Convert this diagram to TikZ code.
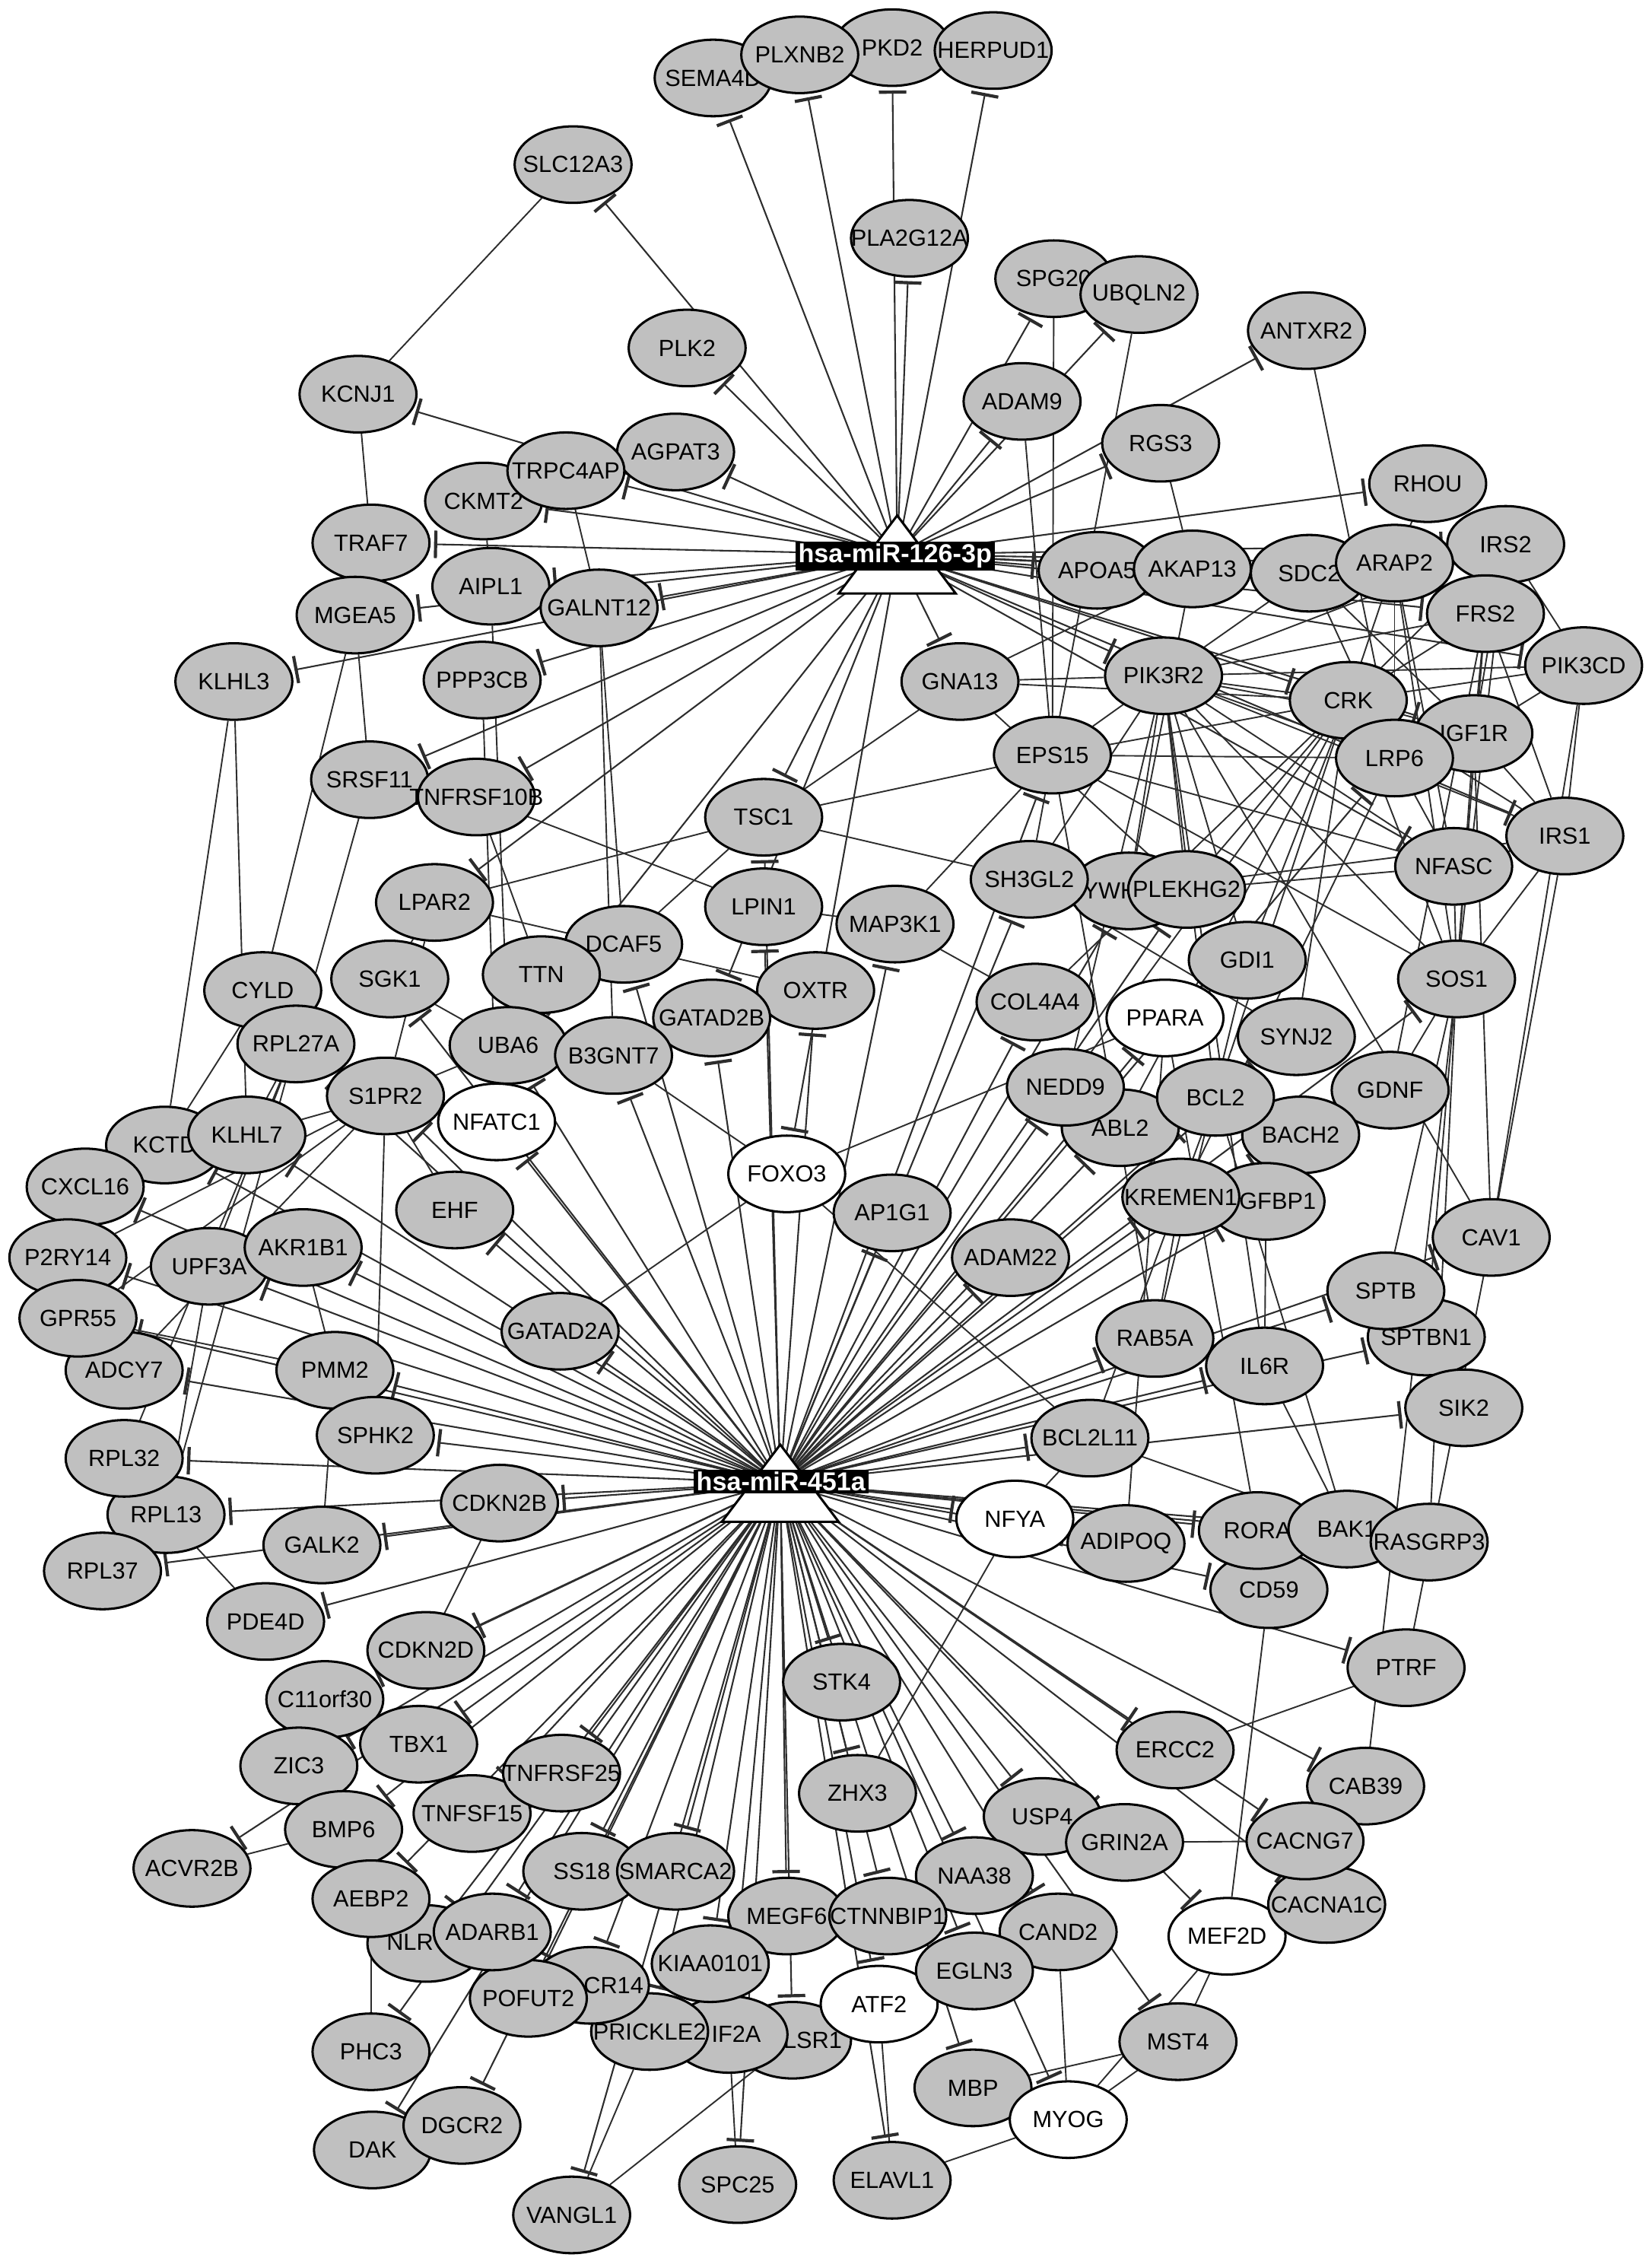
\documentclass[tikz,border=0pt]{standalone}
\usepackage{fontspec}
\setmainfont{Liberation Sans}
\usetikzlibrary{arrows.meta,shapes.geometric}
\pgfdeclarelayer{background}
\pgfsetlayers{background,main}
\definecolor{nodegray}{RGB}{192,192,192}
\definecolor{edgecol}{RGB}{45,45,45}
\newcommand\genefont{\fontsize{8.1}{9.5}\selectfont}
\newcommand\hubfont{\fontsize{9}{10}\selectfont\bfseries}
\newcommand\gl[1]{\makebox[0pt][c]{#1}}
\begin{document}
\begin{tikzpicture}[x=0.5pt,y=-0.5pt,
 gene/.style={ellipse, draw=black, line width=0.8pt, fill=nodegray, minimum width=40.5pt, minimum height=26.5pt, inner sep=0pt, font=\genefont},
 tf/.style={gene, fill=white},
 lbl/.style={inner sep=0pt, font=\genefont},
 inh/.style={draw=edgecol, line width=0.55pt, -{Bar[width=9.5pt,line width=1.1pt]}, shorten >=1.2pt},
 lnk/.style={draw=edgecol, line width=0.5pt},
 hubtri/.style={draw=black, fill=white, line width=0.8pt, line join=miter},
 hublbl/.style={fill=black, text=white, font=\hubfont, inner xsep=1pt, inner ysep=0.8pt}
]
\useasboundingbox (0,0) rectangle (1144,1568);
\begin{pgfonlayer}{background}
\fill[white] (0,0) rectangle (1144,1568);
\end{pgfonlayer}

\coordinate (h1) at (621.5,384);
\coordinate (h2) at (540.5,1027);

% ---------------- nodes (order = stacking) ----------------
\node[gene] (sema4d) at (494,54) {\gl{SEMA4D}};
\node[gene] (pkd2) at (618,33) {\gl{PKD2}};
\node[gene] (plxnb2) at (554,38) {\gl{PLXNB2}};
\node[gene] (herpud1) at (688,35) {\gl{HERPUD1}};
\node[gene] (pla2g12a) at (630,165) {\gl{PLA2G12A}};
\node[gene] (slc12a3) at (397,114) {\gl{SLC12A3}};
\node[gene] (spg20) at (730,193) {\gl{SPG20}};
\node[gene] (ubqln2) at (789,204) {\gl{UBQLN2}};
\node[gene] (antxr2) at (905,229) {\gl{ANTXR2}};
\node[gene] (plk2) at (476,241) {\gl{PLK2}};
\node[gene] (adam9) at (708,278) {\gl{ADAM9}};
\node[gene] (kcnj1) at (248,273) {\gl{KCNJ1}};
\node[gene] (rgs3) at (804,307) {\gl{RGS3}};
\node[gene] (rhou) at (989,335) {\gl{RHOU}};
\node[gene] (ckmt2) at (335,347) {\gl{CKMT2}};
\node[gene] (agpat3) at (468,313) {\gl{AGPAT3}};
\node[gene] (trpc4ap) at (392,326) {\gl{TRPC4AP}};
\node[gene] (traf7) at (257,376) {\gl{TRAF7}};
\node[gene] (mgea5) at (246,426) {\gl{MGEA5}};
\node[gene] (aipl1) at (340,406) {\gl{AIPL1}};
\node[gene] (galnt12) at (415,421) {\gl{GALNT12}};
\node[gene] (apoa5) at (760,395) {\gl{APOA5}};
\node[gene] (akap13) at (826,394) {\gl{AKAP13}};
\node[gene] (sdc2) at (907,397) {\gl{SDC2}};
\node[gene] (irs2) at (1043,377) {\gl{IRS2}};
\node[gene] (arap2) at (966,390) {\gl{ARAP2}};
\node[gene] (frs2) at (1029,425) {\gl{FRS2}};
\node[gene] (pik3cd) at (1097,461) {\gl{PIK3CD}};
\node[gene] (klhl3) at (162,472) {\gl{KLHL3}};
\node[gene] (ppp3cb) at (334,471) {\gl{PPP3CB}};
\node[gene] (gna13) at (665,472) {\gl{GNA13}};
\node[gene] (pik3r2) at (806,468) {\gl{PIK3R2}};
\node[gene] (igf1r) at (1021,508) {\gl{IGF1R}};
\node[gene] (crk) at (934,485) {\gl{CRK}};
\node[gene] (lrp6) at (966,525) {\gl{LRP6}};
\node[gene] (eps15) at (729,523) {\gl{EPS15}};
\node[gene] (srsf11) at (256,540) {\gl{SRSF11}};
\node[gene] (tnfrsf10b) at (330,552) {\gl{TNFRSF10B}};
\node[gene] (tsc1) at (529,566) {\gl{TSC1}};
\node[gene] (irs1) at (1084,579) {\gl{IRS1}};
\node[gene] (nfasc) at (1007,600) {\gl{NFASC}};
\node[gene] (ywhaz) at (782,617) {};
\node[lbl] at (769,617) {YWH};
\node[gene] (sh3gl2) at (713,609) {\gl{SH3GL2}};
\node[gene] (plekhg2) at (822,616) {\gl{PLEKHG2}};
\node[gene] (lpar2) at (301,625) {\gl{LPAR2}};
\node[gene] (lpin1) at (529,628) {\gl{LPIN1}};
\node[gene] (map3k1) at (620,640) {\gl{MAP3K1}};
\node[gene] (dcaf5) at (432,654) {\gl{DCAF5}};
\node[gene] (gdi1) at (864,665) {\gl{GDI1}};
\node[gene] (sos1) at (1009,678) {\gl{SOS1}};
\node[gene] (cyld) at (182,686) {\gl{CYLD}};
\node[gene] (sgk1) at (270,678) {\gl{SGK1}};
\node[gene] (ttn) at (375,675) {\gl{TTN}};
\node[gene] (oxtr) at (565,686) {\gl{OXTR}};
\node[gene] (gatad2b) at (493,705) {\gl{GATAD2B}};
\node[gene] (col4a4) at (717,694) {\gl{COL4A4}};
\node[tf] (ppara) at (807,705) {\gl{PPARA}};
\node[gene] (synj2) at (898,718) {\gl{SYNJ2}};
\node[gene] (rpl27a) at (205,723) {\gl{RPL27A}};
\node[gene] (uba6) at (352,724) {\gl{UBA6}};
\node[gene] (b3gnt7) at (425,731) {\gl{B3GNT7}};
\node[gene] (gdnf) at (963,755) {\gl{GDNF}};
\node[gene] (abl2) at (776,781) {\gl{ABL2}};
\node[gene] (bach2) at (901,786) {\gl{BACH2}};
\node[gene] (nedd9) at (738,753) {\gl{NEDD9}};
\node[gene] (bcl2) at (842,760) {\gl{BCL2}};
\node[gene] (igfbp1) at (877,832) {};
\node[lbl] at (885,832) {GFBP1};
\node[gene] (kremen1) at (818,829) {\gl{KREMEN1}};
\node[gene] (s1pr2) at (267,759) {\gl{S1PR2}};
\node[tf] (nfatc1) at (344,777) {\gl{NFATC1}};
\node[gene] (kctd) at (114,793) {\gl{KCTD}};
\node[gene] (klhl7) at (171,786) {\gl{KLHL7}};
\node[tf] (foxo3) at (545,813) {\gl{FOXO3}};
\node[gene] (cxcl16) at (59,822) {\gl{CXCL16}};
\node[gene] (ehf) at (315,838) {\gl{EHF}};
\node[gene] (ap1g1) at (618,840) {\gl{AP1G1}};
\node[gene] (cav1) at (1033,857) {\gl{CAV1}};
\node[gene] (p2ry14) at (47,871) {\gl{P2RY14}};
\node[gene] (upf3a) at (145,877) {\gl{UPF3A}};
\node[gene] (akr1b1) at (210,864) {\gl{AKR1B1}};
\node[gene] (adam22) at (700,871) {\gl{ADAM22}};
\node[gene] (adcy7) at (86,949) {\gl{ADCY7}};
\node[gene] (gpr55) at (54,913) {\gl{GPR55}};
\node[gene] (sptbn1) at (988,926) {\gl{SPTBN1}};
\node[gene] (sptb) at (960,894) {\gl{SPTB}};
\node[gene] (gatad2a) at (388,922) {\gl{GATAD2A}};
\node[gene] (pmm2) at (232,949) {\gl{PMM2}};
\node[gene] (rab5a) at (800,927) {\gl{RAB5A}};
\node[gene] (il6r) at (876,946) {\gl{IL6R}};
\node[gene] (sphk2) at (260,994) {\gl{SPHK2}};
\node[gene] (sik2) at (1014,975) {\gl{SIK2}};
\node[gene] (rpl13) at (115,1049) {\gl{RPL13}};
\node[gene] (rpl32) at (86,1010) {\gl{RPL32}};
\node[gene] (rpl37) at (71,1088) {\gl{RPL37}};
\node[gene] (bcl2l11) at (755,996) {\gl{BCL2L11}};
\node[gene] (cdkn2b) at (346,1041) {\gl{CDKN2B}};
\node[tf] (nfya) at (703,1052) {\gl{NFYA}};
\node[gene] (adipoq) at (780,1069) {\gl{ADIPOQ}};
\node[gene] (cd59) at (879,1101) {\gl{CD59}};
\node[gene] (rora) at (871,1060) {\gl{RORA}};
\node[gene] (bak1) at (933,1059) {\gl{BAK1}};
\node[gene] (rasgrp3) at (990,1068) {\gl{RASGRP3}};
\node[gene] (galk2) at (223,1070) {\gl{GALK2}};
\node[gene] (pde4d) at (184,1123) {\gl{PDE4D}};
\node[gene] (cdkn2d) at (295,1143) {\gl{CDKN2D}};
\node[gene] (ptrf) at (974,1155) {\gl{PTRF}};
\node[gene] (stk4) at (583,1165) {\gl{STK4}};
\node[gene] (c11orf30) at (225,1177) {\gl{C11orf30}};
\node[gene] (tbx1) at (290,1208) {\gl{TBX1}};
\node[gene] (zic3) at (207,1223) {\gl{ZIC3}};
\node[gene] (ercc2) at (814,1212) {\gl{ERCC2}};
\node[gene] (cab39) at (946,1237) {\gl{CAB39}};
\node[gene] (zhx3) at (594,1242) {\gl{ZHX3}};
\node[gene] (tnfsf15) at (327,1256) {\gl{TNFSF15}};
\node[gene] (tnfrsf25) at (389,1228) {\gl{TNFRSF25}};
\node[gene] (bmp6) at (238,1267) {\gl{BMP6}};
\node[gene] (usp4) at (722,1258) {\gl{USP4}};
\node[gene] (grin2a) at (779,1276) {\gl{GRIN2A}};
\node[tf] (mef2d) at (850,1341) {\gl{MEF2D}};
\node[gene] (cacna1c) at (919,1319) {\gl{CACNA1C}};
\node[gene] (cacng7) at (904,1275) {\gl{CACNG7}};
\node[gene] (acvr2b) at (133,1294) {\gl{ACVR2B}};
\node[gene] (ss18) at (403,1296) {\gl{SS18}};
\node[gene] (smarca2) at (468,1296) {\gl{SMARCA2}};
\node[gene] (naa38) at (675,1299) {\gl{NAA38}};
\node[gene] (nlr) at (295,1346) {};
\node[lbl] at (284,1345) {NLR};
\node[gene] (aebp2) at (257,1315) {\gl{AEBP2}};
\node[gene] (megf6) at (545,1327) {\gl{MEGF6}};
\node[gene] (ctnnbip1) at (615,1327) {\gl{CTNNBIP1}};
\node[gene] (lsr1) at (549,1413) {};
\node[lbl] at (563,1413) {LSR1};
\node[tf] (atf2) at (609,1388) {\gl{ATF2}};
\node[gene] (cand2) at (733,1338) {\gl{CAND2}};
\node[gene] (egln3) at (675,1365) {\gl{EGLN3}};
\node[gene] (eif2a) at (505,1409) {};
\node[lbl] at (510,1409) {IF2A};
\node[gene] (prickle2) at (450,1407) {\gl{PRICKLE2}};
\node[gene] (cr14) at (409,1375) {};
\node[lbl] at (425,1375) {CR14};
\node[gene] (kiaa0101) at (492,1360) {\gl{KIAA0101}};
\node[gene] (pofut2) at (366,1384) {\gl{POFUT2}};
\node[gene] (adarb1) at (341,1338) {\gl{ADARB1}};
\node[gene] (phc3) at (257,1421) {\gl{PHC3}};
\node[gene] (mst4) at (816,1414) {\gl{MST4}};
\node[gene] (mbp) at (674,1446) {\gl{MBP}};
\node[tf] (myog) at (740,1468) {\gl{MYOG}};
\node[gene] (dak) at (258,1489) {\gl{DAK}};
\node[gene] (dgcr2) at (320,1472) {\gl{DGCR2}};
\node[gene] (spc25) at (511,1513) {\gl{SPC25}};
\node[gene] (elavl1) at (618,1510) {\gl{ELAVL1}};
\node[gene] (vangl1) at (396,1534) {\gl{VANGL1}};

% ---------------- hubs ----------------
\filldraw[hubtri] (581,411) -- (621.5,357) -- (662,411) -- cycle;
\node[hublbl] (l1) at (620,385) {hsa-miR-126-3p};
\filldraw[hubtri] (500,1054) -- (540.5,1000.5) -- (581,1054) -- cycle;
\node[hublbl] (l2) at (541,1026) {hsa-miR-451a};

% ---------------- edges ----------------
\begin{pgfonlayer}{background}
\foreach \a/\b in {slc12a3/kcnj1, kcnj1/traf7, trpc4ap/galnt12, ckmt2/aipl1, mgea5/cyld, mgea5/srsf11,
  klhl3/kctd, klhl3/klhl7, galnt12/dcaf5, galnt12/b3gnt7, aipl1/uba6, ppp3cb/nfatc1, tnfrsf10b/lpin1,
  tnfrsf10b/ttn, tsc1/lpar2, tsc1/sh3gl2, tsc1/dcaf5, tsc1/eps15, lpin1/map3k1, lpar2/oxtr, map3k1/col4a4,
  map3k1/eps15, foxo3/ppara, foxo3/b3gnt7, foxo3/gatad2a, foxo3/bcl2l11, srsf11/rpl27a, cyld/kctd,
  cyld/rpl27a, klhl7/rpl27a, rpl27a/rpl32, rpl27a/rpl13, rpl27a/upf3a, rpl32/rpl13, upf3a/rpl13,
  rpl13/pde4d, uba6/s1pr2, sgk1/uba6, lpar2/sgk1, lpar2/s1pr2, s1pr2/ehf, s1pr2/klhl7, s1pr2/gpr55,
  s1pr2/p2ry14, s1pr2/adcy7, s1pr2/sphk2, gpr55/pmm2, akr1b1/pmm2, pmm2/galk2, cdkn2b/cdkn2d,
  bmp6/acvr2b, zic3/bmp6, tnfrsf25/tnfsf15, aebp2/phc3, prickle2/vangl1, vangl1/lsr1, eif2a/spc25,
  atf2/elavl1, elavl1/myog, mbp/mst4, myog/mst4, mef2d/mst4, mef2d/myog, cand2/myog, grin2a/cacng7,
  ercc2/ptrf, cd59/mef2d, zhx3/nfya, nfya/bcl2l11, bcl2l11/bak1, rora/ppara, adipoq/ppara,
  pik3r2/crk, pik3r2/irs1, pik3r2/irs2, pik3r2/igf1r, pik3r2/frs2, pik3r2/pik3cd, pik3r2/sos1,
  pik3r2/eps15, pik3r2/gna13, pik3r2/sdc2, pik3r2/nedd9, pik3r2/cav1, pik3r2/il6r, pik3r2/plekhg2,
  pik3r2/ywhaz, pik3r2/sh3gl2, pik3r2/gdi1, pik3r2/bcl2, pik3r2/lrp6, pik3r2/nfasc,
  crk/irs1, crk/irs2, crk/igf1r, crk/frs2, crk/sos1, crk/nedd9, crk/abl2, crk/pik3cd, crk/arap2,
  crk/eps15, crk/bcl2, crk/synj2, crk/gdi1, crk/plekhg2, crk/col4a4,
  irs1/igf1r, irs1/pik3cd, irs1/sos1, irs1/ywhaz, irs1/frs2, irs1/cav1, irs1/nfasc,
  irs2/igf1r, irs2/pik3cd, irs2/sos1, irs2/frs2, igf1r/sos1, igf1r/frs2, igf1r/cav1, igf1r/pik3cd,
  igf1r/sdc2, frs2/sos1, frs2/arap2, frs2/gdnf, arap2/sos1, arap2/nfasc, arap2/lrp6,
  lrp6/kremen1, lrp6/antxr2, lrp6/sdc2, lrp6/nfasc, sos1/eps15, sos1/rasgrp3, sos1/sptbn1,
  sos1/cab39, sos1/sptb, sos1/gdnf, sos1/nfasc, plekhg2/nfasc, eps15/sh3gl2, eps15/lrp6, eps15/nfasc,
  eps15/rab5a, gdi1/rab5a, synj2/sh3gl2, abl2/nedd9, bcl2/bak1, bcl2/bcl2l11, bcl2/bach2,
  kremen1/rab5a, igfbp1/il6r, il6r/bak1, cav1/ptrf, cav1/pik3cd, rhou/arap2, ubqln2/eps15,
  spg20/eps15, adam9/eps15, rgs3/akap13, akap13/ywhaz, akap13/gna13, gna13/crk, gna13/plekhg2,
  gna13/tsc1}
  \draw[lnk] (\a) -- (\b);
\foreach \t in {sema4d, plxnb2, pkd2, herpud1, pla2g12a, slc12a3, plk2, spg20, ubqln2, adam9, antxr2,
  rgs3, rhou, kcnj1, trpc4ap, agpat3, ckmt2, traf7, aipl1, mgea5, galnt12, klhl3, ppp3cb, apoa5,
  akap13, sdc2, arap2, irs2, frs2, pik3cd, pik3r2, crk, igf1r, irs1, nfasc, gna13, tsc1, tnfrsf10b,
  srsf11, lpar2, gatad2b, uba6, foxo3}
  \draw[inh] (h1) -- (\t);
\foreach \t in {cdkn2b, galk2, rpl37, rpl13, rpl32, sphk2, pmm2, adcy7, gpr55, p2ry14, cxcl16, upf3a,
  akr1b1, klhl7, kctd, s1pr2, sgk1, rpl27a, ehf, nfatc1, uba6, b3gnt7, gatad2b, gatad2a, dcaf5, oxtr,
  lpin1, tsc1, map3k1, ap1g1, adam22, col4a4, nedd9, abl2, ppara, bcl2, kremen1, igfbp1, bach2, synj2,
  sos1, cav1, rab5a, sptb, il6r, sptbn1, sik2, bcl2l11, nfya, rora, adipoq, bak1, rasgrp3, cd59, ptrf,
  ercc2, cacng7, cab39, cacna1c, stk4, zhx3, usp4, grin2a, mef2d, naa38, cand2, mst4, egln3, mbp, myog,
  megf6, lsr1, ctnnbip1, atf2, elavl1, eif2a, spc25, prickle2, vangl1, kiaa0101, smarca2, ss18, cr14,
  pofut2, dgcr2, adarb1, dak, nlr, phc3, aebp2, bmp6, acvr2b, zic3, tbx1, tnfrsf25, tnfsf15, c11orf30,
  cdkn2d, pde4d, eps15, sh3gl2, ywhaz, plekhg2, lrp6}
  \draw[inh] (h2) -- (\t);
\end{pgfonlayer}
\end{tikzpicture}
\end{document}
